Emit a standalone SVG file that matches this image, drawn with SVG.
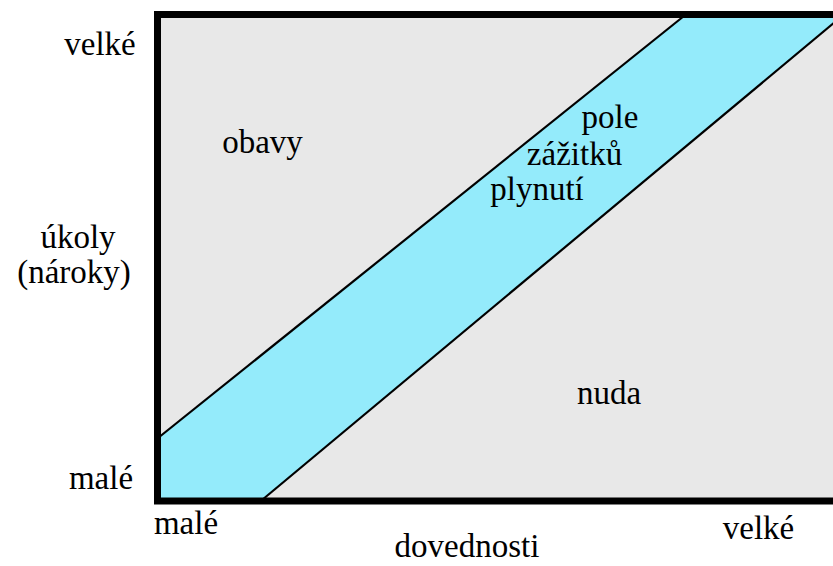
<svg xmlns="http://www.w3.org/2000/svg" width="833" height="566" viewBox="0 0 833 566">
<style>
.t{font-family:'Liberation Serif','Times New Roman',serif;font-size:33px;fill:#000;text-anchor:middle}
.ln{stroke:#000;stroke-width:2.2;fill:none}
</style>
<rect x="0" y="0" width="833" height="566" fill="#fff"/>
<g id="plot">
<rect x="157.5" y="14.5" width="700" height="486.5" fill="#e8e8e8"/>
<polygon id="flow-band" points="161,436 161,498 264,498 833,24 833,18 682,18" fill="#94ebfb"/>
<g id="connectors">
<line class="ln" x1="158" y1="438" x2="684" y2="16"/>
<line class="ln" x1="262" y1="500" x2="835" y2="22"/>
</g>
<rect x="157.5" y="14.5" width="700" height="486.5" fill="none" stroke="#000" stroke-width="7"/>
</g>
<g id="labels">
<text class="t" x="100" y="55">velké</text>
<text class="t" x="78" y="248">úkoly</text>
<text class="t" x="74" y="283">(nároky)</text>
<text class="t" x="101" y="489">malé</text>
<text class="t" x="186" y="534">malé</text>
<text class="t" x="758.5" y="539">velké</text>
<text class="t" x="467" y="557">dovednosti</text>
<text class="t" x="262.5" y="153">obavy</text>
<text class="t" x="609" y="404">nuda</text>
<text class="t" x="610" y="128">pole</text>
<text class="t" x="574.5" y="165">zážitků</text>
<text class="t" x="537" y="200">plynutí</text>
</g>
</svg>
